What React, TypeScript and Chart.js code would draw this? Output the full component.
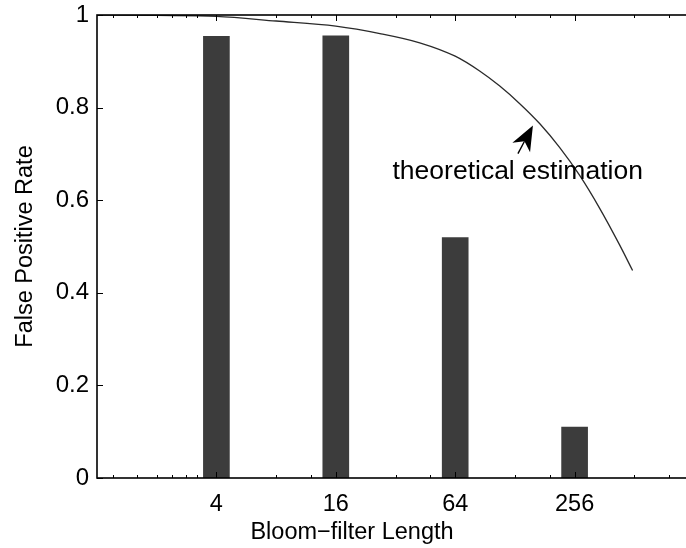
import React, { useEffect, useRef } from 'react';
import { Chart, registerables } from 'chart.js';

Chart.register(...registerables);

// ---- data ----
const categories = [4, 16, 64, 256];
const xTickLabels = ['4', '16', '64', '256'];
const falsePositiveRate = [0.954, 0.955, 0.519, 0.11];

const theoryX = [1, 2, 4, 8, 16, 26.7, 42.4, 64, 85, 107, 135, 171, 215, 271, 342, 431, 502];
const theoryY = [1.0, 0.999, 0.997, 0.987, 0.976, 0.96, 0.94, 0.911, 0.879, 0.847, 0.809, 0.765, 0.714, 0.654, 0.583, 0.504, 0.448];

const xMinorTicks = [1.2, 1.6, 2, 2.4, 2.8, 3.2, 8, 12, 32, 48, 128, 192, 512, 768];
const yTickValues = [0, 0.2, 0.4, 0.6, 0.8, 1];

const xAxisTitle = 'Bloom\u2212filter Length';
const yAxisTitle = 'False Positive Rate';
const annotationText = 'theoretical estimation';
const annotationTextAt = [30.9, 0.645];
const arrowFrom = [132.6, 0.7005];
const arrowTo = [157.8, 0.7616];

const FONT = '"Liberation Sans", Arial, Helvetica, sans-serif';

const framePlugin = {
  id: 'frame',
  afterDatasetsDraw(chart: any) {
    const { ctx, chartArea: a, scales } = chart;
    const x = scales.x;
    const y = scales.y;
    ctx.save();
    ctx.strokeStyle = '#000';
    ctx.lineWidth = 1;
    const seg = (x1: number, y1: number, x2: number, y2: number) => {
      ctx.beginPath();
      ctx.moveTo(x1, y1);
      ctx.lineTo(x2, y2);
      ctx.stroke();
    };
    categories.forEach((v) => {
      const px = Math.round(x.getPixelForValue(v)) + 0.5;
      seg(px, a.bottom, px, a.bottom - 6);
      seg(px, a.top, px, a.top + 6);
    });
    xMinorTicks.forEach((v) => {
      const px = Math.round(x.getPixelForValue(v)) + 0.5;
      seg(px, a.bottom, px, a.bottom - 3);
      seg(px, a.top, px, a.top + 3);
    });
    yTickValues.forEach((v) => {
      const py = Math.round(y.getPixelForValue(v)) + 0.5;
      seg(a.left, py, a.left + 6, py);
      seg(a.right, py, a.right - 6, py);
    });
    ctx.lineWidth = 1.6;
    ctx.strokeRect(a.left, a.top, a.right - a.left, a.bottom - a.top);

    // x axis title (placed as in the reference figure)
    ctx.fillStyle = '#000';
    ctx.font = `23.5px ${FONT}`;
    ctx.textAlign = 'center';
    ctx.textBaseline = 'middle';
    ctx.fillText(xAxisTitle, a.left + 255, a.bottom + 55);

    // annotation
    const tx = x.getPixelForValue(annotationTextAt[0]);
    const ty = y.getPixelForValue(annotationTextAt[1]);
    ctx.font = `26.5px ${FONT}`;
    ctx.textAlign = 'left';
    ctx.textBaseline = 'alphabetic';
    ctx.fillText(annotationText, tx, ty);

    const fx = x.getPixelForValue(arrowFrom[0]);
    const fy = y.getPixelForValue(arrowFrom[1]);
    const ex = x.getPixelForValue(arrowTo[0]);
    const ey = y.getPixelForValue(arrowTo[1]);
    const dx = ex - fx;
    const dy = ey - fy;
    const len = Math.hypot(dx, dy);
    const ux = dx / len;
    const uy = dy / len;
    const nx = -uy;
    const ny = ux;
    const headLen = 25;
    const halfW = 10;
    const bx = ex - ux * headLen;
    const by = ey - uy * headLen;
    const notchX = ex - ux * headLen * 0.72;
    const notchY = ey - uy * headLen * 0.72;
    ctx.lineWidth = 1.4;
    seg(fx, fy, notchX, notchY);
    ctx.beginPath();
    ctx.moveTo(ex, ey);
    ctx.lineTo(bx + nx * halfW, by + ny * halfW);
    ctx.lineTo(notchX, notchY);
    ctx.lineTo(bx - nx * halfW, by - ny * halfW);
    ctx.closePath();
    ctx.fill();
    ctx.restore();
  },
};

export default function App() {
  const ref = useRef<HTMLCanvasElement>(null);
  useEffect(() => {
    if (!ref.current) return;
    const chart = new Chart(ref.current, {
      type: 'bar',
      data: {
        datasets: [
          {
            type: 'line',
            data: theoryX.map((v, i) => ({ x: v, y: theoryY[i] })),
            borderColor: '#2a2a2a',
            borderWidth: 1.3,
            pointRadius: 0,
            fill: false,
            cubicInterpolationMode: 'monotone',
            order: 0,
          } as any,
          {
            type: 'bar',
            data: categories.map((v, i) => ({ x: v, y: falsePositiveRate[i] })),
            backgroundColor: '#3c3c3c',
            borderWidth: 0,
            barThickness: 26,
            order: 1,
          } as any,
        ],
      },
      options: {
        animation: false,
        responsive: false,
        devicePixelRatio: 1,
        layout: { padding: { left: 0, right: 26, top: 15, bottom: 0 } },
        plugins: { legend: { display: false }, tooltip: { enabled: false } },
        scales: {
          x: {
            type: 'logarithmic',
            min: 1,
            max: 1024,
            offset: false,
            grid: { display: false, drawTicks: false },
            border: { display: false },
            afterBuildTicks: (s: any) => {
              s.ticks = categories.map((v) => ({ value: v }));
            },
            afterFit: (s: any) => {
              s.height = 70;
              s.paddingLeft = 0;
              s.paddingRight = 0;
            },
            ticks: {
              autoSkip: false,
              maxRotation: 0,
              padding: 12,
              color: '#000',
              font: { family: FONT, size: 23.5 },
              callback: (v: any) => {
                const i = categories.indexOf(Number(v));
                return i >= 0 ? xTickLabels[i] : '';
              },
            },
            title: { display: false },
          },
          y: {
            type: 'linear',
            min: 0,
            max: 1,
            grid: { display: false, drawTicks: false },
            border: { display: false },
            afterBuildTicks: (s: any) => {
              s.ticks = yTickValues.map((v) => ({ value: v }));
            },
            afterFit: (s: any) => {
              s.width = 97;
              s.paddingTop = 0;
              s.paddingBottom = 0;
            },
            ticks: {
              padding: 8,
              color: '#000',
              font: { family: FONT, size: 24 },
              callback: (v: any) => String(Number(v)),
            },
            title: {
              display: true,
              text: yAxisTitle,
              color: '#000',
              font: { family: FONT, size: 23.5 },
              padding: { top: 11, bottom: 0 },
            },
          },
        },
      } as any,
      plugins: [framePlugin],
    });
    return () => chart.destroy();
  }, []);
  return (
    <div
      style={{
        position: 'fixed',
        left: 0,
        top: 0,
        width: 686,
        height: 548,
        overflow: 'hidden',
        background: '#fff',
      }}
    >
      <canvas ref={ref} width={720} height={548} style={{ display: 'block' }} />
    </div>
  );
}
